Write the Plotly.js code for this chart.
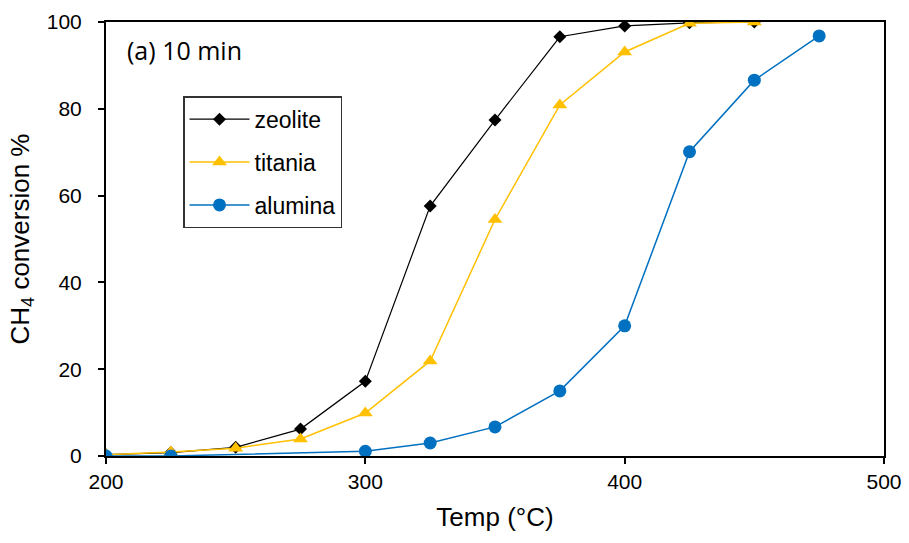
<!DOCTYPE html>
<html><head><meta charset="utf-8">
<script src="https://cdn.plot.ly/plotly-3.0.1.min.js"></script>
<style>html,body{margin:0;padding:0;background:#fff}</style>
</head><body>
<div id="chart" style="width:909px;height:543px"></div>
<script>
const zeoliteT = [200, 225, 250, 275, 300, 325, 350, 375, 400, 425, 450];
const zeoliteY = [0.3, 0.8, 2.0, 6.2, 17.2, 57.6, 77.4, 96.6, 99.1, 99.8, 100];
const titaniaT = [200, 225, 250, 275, 300, 325, 350, 375, 400, 425, 450];
const titaniaY = [0.3, 0.9, 1.8, 3.9, 9.9, 21.9, 54.5, 80.9, 93.1, 99.7, 100];
const aluminaT = [200, 225, 300, 325, 350, 375, 400, 425, 450, 475];
const aluminaY = [0, 0, 1.1, 3.0, 6.7, 15.0, 30.0, 70.1, 86.6, 96.8];
const xTicks = [200, 300, 400, 500];
const yTicks = [0, 20, 40, 60, 80, 100];

const traces = [
  {x: zeoliteT, y: zeoliteY, name: 'zeolite', mode: 'lines+markers', legendgroup: 'g1',
   line: {color: '#000000', width: 1.2}, marker: {symbol: 'diamond', size: 10, color: '#000000'}},
  {x: titaniaT, y: titaniaY, name: 'titania', mode: 'lines+markers', legendgroup: 'g2',
   line: {color: '#FFC000', width: 1.5}, marker: {symbol: 'triangle-up', size: 13, color: '#FFC000'}},
  {x: aluminaT, y: aluminaY, name: 'alumina', mode: 'lines+markers', legendgroup: 'g3',
   line: {color: '#0070C0', width: 1.5}, marker: {symbol: 'circle', size: 13, color: '#0070C0'}}
];

const layout = {
  width: 909, height: 543,
  margin: {l: 106, r: 25, t: 22, b: 87},
  paper_bgcolor: '#fff', plot_bgcolor: '#fff',
  font: {family: 'Liberation Sans, Arial, sans-serif', size: 18, color: '#000'},
  xaxis: {range: [200, 500], tickvals: xTicks, ticktext: xTicks.map(String),
    showgrid: false, zeroline: false, showline: true, mirror: true, linecolor: '#000', linewidth: 2,
    ticks: 'outside', ticklen: 6, tickwidth: 2, tickcolor: '#000',
    tickfont: {size: 21, family: 'Liberation Sans, Arial, sans-serif'},
    title: {text: 'Temp (°C)', font: {size: 26, family: 'Liberation Sans, Arial, sans-serif'}, standoff: 16}},
  yaxis: {range: [0, 100], tickvals: yTicks, ticktext: yTicks.map(String),
    showgrid: false, zeroline: false, showline: true, mirror: true, linecolor: '#000', linewidth: 2,
    ticks: 'outside', ticklen: 6, tickwidth: 2, tickcolor: '#000', ticklabelstandoff: 12,
    tickfont: {size: 21, family: 'Liberation Sans, Arial, sans-serif'},
    title: {text: 'CH<sub>4</sub> conversion %', font: {size: 26, family: 'Liberation Sans, Arial, sans-serif'}, standoff: 10}},
  legend: {x: 0.099, y: 0.829, xanchor: 'left', yanchor: 'top',
    bordercolor: '#333', borderwidth: 1.5, bgcolor: '#fff',
    font: {size: 23, family: 'Liberation Sans, Arial, sans-serif'},
    traceorder: 'grouped', tracegroupgap: 10, itemwidth: 60},
  annotations: [{x: 0.025, y: 0.935, xref: 'paper', yref: 'paper', xanchor: 'left', yanchor: 'middle',
    text: '(a) 10 min', showarrow: false, font: {size: 25, family: 'Open Sans, Lato, sans-serif'}}]
};
Plotly.newPlot('chart', traces, layout, {displayModeBar: false});
</script>
</body></html>
